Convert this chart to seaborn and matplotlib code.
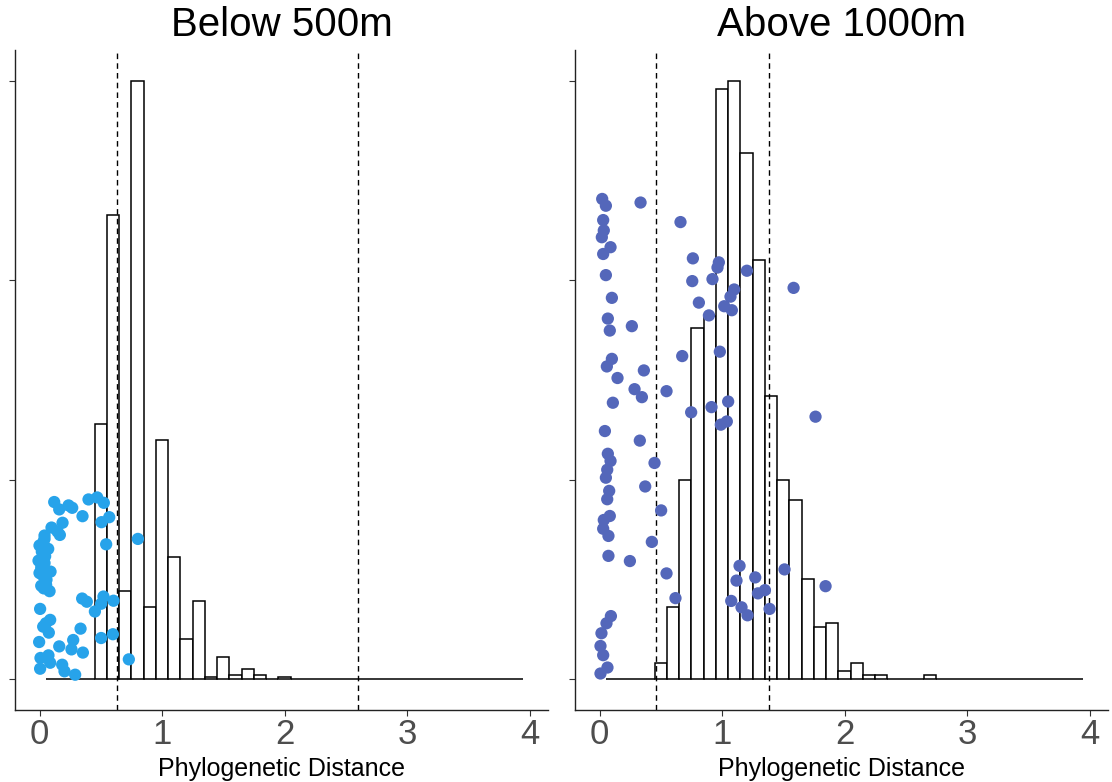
import numpy as np
import pandas as pd
import matplotlib
matplotlib.use("Agg")
import matplotlib.pyplot as plt
import seaborn as sns

# ---------------- data ----------------
titles = ["Below 500m", "Above 1000m"]
x_label = "Phylogenetic Distance"
x_ticks = [0, 1, 2, 3, 4]

# null-distribution histogram (bin centres, counts), binwidth 0.1 over 0.05-3.95
low_bin_centers = [0.5, 0.6, 0.7, 0.8, 0.9, 1.0, 1.1, 1.2, 1.3, 1.4, 1.5, 1.6, 1.7, 1.8, 1.9, 2.0]
low_counts = [128, 233, 44, 300, 36, 120, 61, 20, 39, 1, 11, 2, 5, 2, 0, 1]

high_bin_centers = [0.5, 0.6, 0.7, 0.8, 0.9, 1.0, 1.1, 1.2, 1.3, 1.4, 1.5, 1.6,
                    1.7, 1.8, 1.9, 2.0, 2.1, 2.2, 2.3, 2.4, 2.5, 2.6, 2.7]
high_counts = [4, 18, 50, 88, 91, 148, 150, 132, 105, 71, 50, 45,
               25, 13, 14, 2, 4, 1, 1, 0, 0, 0, 1]

# dashed reference lines
low_vlines = [0.629, 2.596]
high_vlines = [0.465, 1.38]

# y tick values (labels hidden)
low_yticks = [0, 100, 200, 300]
high_yticks = [0, 50, 100, 150]

# observed points (x = phylogenetic distance, y = jittered position)
low_x = [0.120, 0.161, 0.237, 0.267, 0.351, 0.400, 0.471, 0.525, 0.569, 0.506,
         0.188, 0.098, 0.147, 0.166, 0.041, 0.030, 0.071, 0.019, 0.046, -0.008,
         0.014, 0.090, 0.024, 0.057, 0.014, 0.082, 0.544, 0.803, 0.348, 0.386,
         0.522, 0.503, 0.604, 0.452, 0.005, 0.087, 0.052, 0.030, 0.076, 0.335,
         0.599, 0.503, -0.003, 0.161, 0.275, 0.261, 0.354, 0.008, 0.073, 0.087,
         0.185, 0.005, 0.204, 0.291, 0.729, 0.000, 0.041, 0.000, 0.054, 0.035,
         0.027, 0.041]
low_y = [88.8, 85.1, 87.1, 85.9, 81.7, 90.1, 91.1, 88.4, 81.2, 78.7,
         78.4, 76.0, 74.0, 72.3, 72.0, 68.6, 65.3, 63.9, 61.6, 59.4,
         56.0, 53.9, 52.2, 49.8, 46.8, 44.1, 67.6, 70.3, 40.4, 38.8,
         41.4, 37.8, 39.3, 33.9, 35.2, 29.7, 28.0, 26.3, 23.3, 25.3,
         22.5, 20.6, 18.6, 16.4, 19.6, 14.9, 13.3, 10.6, 11.9, 8.2,
         7.2, 5.2, 3.9, 2.2, 9.9, 67.0, 58.2, 53.2, 47.2, 45.5,
         56.0, 70.3]

high_x = [0.022, 0.052, 0.335, 0.030, 0.035, 0.019, 0.090, 0.030, 0.052, 0.101,
          0.068, 0.084, 0.264, 0.101, 0.060, 0.362, 0.147, 0.286, 0.346, 0.109,
          0.547, 0.044,
          0.329, 0.068, 0.090, 0.063, 0.052, 0.449, 0.373, 0.079, 0.063, 0.084,
          0.035, 0.030, 0.073, 0.503, 0.427, 0.073, 0.248, 0.547, 0.093, 0.057,
          0.016, 0.008, 0.030, 0.065, 0.008,
          0.661, 0.762, 0.974, 0.963, 0.757, 0.922, 1.203, 1.099, 1.069, 0.811,
          1.018, 1.080, 0.893, 1.584, 0.675, 0.982, 0.748, 0.914, 1.050, 1.039,
          0.990, 1.763,
          0.620, 1.143, 1.118, 1.271, 1.350, 1.293, 1.075, 1.159, 1.208, 1.388,
          1.510, 1.845]
high_y = [120.4, 118.7, 119.5, 115.1, 112.5, 110.8, 108.3, 106.6, 101.3, 95.6,
          90.4, 87.4, 88.5, 80.3, 78.4, 77.4, 75.5, 72.7, 70.7, 69.3,
          72.2, 62.2,
          59.8, 56.5, 54.7, 52.5, 50.5, 54.2, 48.3, 47.2, 45.1, 40.9,
          39.9, 37.7, 35.9, 42.3, 34.4, 30.9, 29.6, 26.5, 15.8, 14.0,
          11.5, 8.3, 6.0, 2.9, 1.4,
          114.6, 105.5, 104.5, 103.2, 99.8, 100.3, 102.4, 97.7, 95.9, 94.4,
          93.5, 92.5, 91.2, 98.1, 81.0, 82.1, 66.9, 68.2, 69.6, 64.6,
          63.8, 65.8,
          20.3, 28.4, 24.7, 25.5, 22.3, 21.5, 19.6, 18.0, 16.0, 17.6,
          27.5, 23.3]

low_color = "#27A3EA"
high_color = "#5467BA"

# ---------------- styling ----------------
sns.set_style("white")
plt.rcParams["font.family"] = ["Liberation Sans", "DejaVu Sans"]

fig = plt.figure(figsize=(11.12, 7.82), dpi=100)
W, H = 1112.0, 782.0
ax1 = fig.add_axes([15 / W, 72 / H, 533 / W, 660 / H])
ax2 = fig.add_axes([575 / W, 72 / H, 533 / W, 660 / H])

panels = [
    (ax1, titles[0], low_bin_centers, low_counts, low_vlines, low_yticks, low_x, low_y, low_color, (-15.5, 315.5)),
    (ax2, titles[1], high_bin_centers, high_counts, high_vlines, high_yticks, high_x, high_y, high_color, (-7.75, 157.75)),
]

for ax, title, centers, counts, vlines, yticks, px, py, col, ylim in panels:
    hist_df = pd.DataFrame({"x": centers, "w": counts})
    sns.histplot(data=hist_df, x="x", weights="w", binwidth=0.1, binrange=(0.05, 3.95),
                 color="white", edgecolor="black", linewidth=1.1, alpha=1, fill=True,
                 ax=ax, zorder=1)
    for v in vlines:
        ax.axvline(v, color="black", linestyle=(0, (4, 3)), linewidth=1.0, zorder=2)
    pts = pd.DataFrame({"x": px, "y": py})
    sns.scatterplot(data=pts, x="x", y="y", color=col, s=78, linewidth=0,
                    edgecolor="none", ax=ax, zorder=3)

    ax.set_xlim(-0.2, 4.15)
    ax.set_ylim(*ylim)
    ax.set_xticks(x_ticks)
    ax.set_xticklabels([str(t) for t in x_ticks])
    ax.set_yticks(yticks)
    ax.set_yticklabels([])
    ax.set_ylabel("")
    ax.set_xlabel(x_label, fontsize=18, labelpad=4, color="black")
    ax.set_title(title, fontsize=29, pad=10, color="black")
    for s in ["top", "right"]:
        ax.spines[s].set_visible(False)
    for s in ["left", "bottom"]:
        ax.spines[s].set_color("#222222")
        ax.spines[s].set_linewidth(1.0)
    ax.tick_params(axis="x", bottom=True, length=4, width=0.8, color="#333333",
                   labelsize=25, labelcolor="#4D4D4D", pad=2)
    ax.tick_params(axis="y", left=True, length=4, width=0.8, color="#333333")

fig.savefig("out.png", dpi=100, facecolor="white")
